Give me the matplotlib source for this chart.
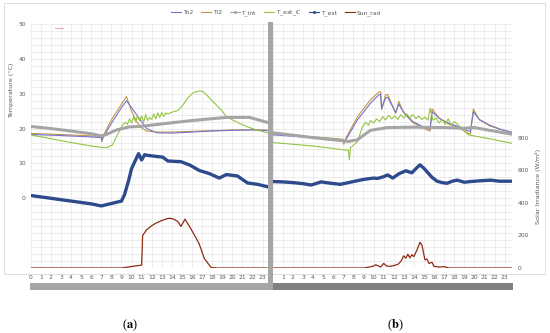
import matplotlib

matplotlib.use("Agg")
import matplotlib.pyplot as plt
from matplotlib.lines import Line2D
from matplotlib.patches import Rectangle
from matplotlib.ticker import MultipleLocator

W, H = 550, 333
DAY_B = 24  # day (b) is drawn right after day (a) on one hour axis

# ---- day (a) -------------------------------------------------------------
TEXT_A_H = [0, 2, 4, 6, 7, 8, 9, 9.3, 9.7, 10.0, 10.4, 10.7, 11.0, 11.3, 11.6, 12.5,
            13.1, 13.6, 14.9, 15.8, 16.7, 17.7, 18.7, 19.4, 20.5, 21.5, 22.5, 23.5, 23.8]
TEXT_A = [0.8, 0.0, -0.8, -1.6, -2.2, -1.5, -0.8, 1.0, 5.0, 8.5, 11.0, 12.8, 11.0, 12.5, 12.3, 12.0,
          11.8, 10.7, 10.5, 9.5, 8.0, 7.1, 5.8, 6.8, 6.4, 4.4, 4.0, 3.3, 3.5]

TINT_A_H = [0, 2, 4, 6, 7, 7.5, 8.5, 9.8, 10.8, 12, 14.1, 16, 17.5, 19.4, 21.7, 23.8]
TINT_A = [20.6, 20.0, 19.3, 18.5, 17.9, 18.3, 19.6, 20.5, 20.6, 21.0, 21.7, 22.3, 22.7, 23.2, 23.2, 21.5]

TI2_A_H = [0, 3, 6, 7, 7.05, 7.2, 8, 9, 9.5, 10, 10.5, 11, 11.5, 12.5, 14, 16, 18, 20, 22, 23.8]
TI2_A = [18.6, 18.3, 17.9, 17.7, 16.2, 18.0, 22.5, 27.0, 29.2, 25.0, 22.0, 20.2, 19.3, 19.0, 19.0,
         19.2, 19.4, 19.6, 19.7, 19.5]
TO2_A = [18.3, 18.0, 17.6, 17.4, 16.6, 17.5, 21.5, 26.0, 28.0, 26.0, 24.0, 22.0, 20.0, 18.8, 18.7,
         19.0, 19.3, 19.5, 19.6, 19.4]

TEC_A_H = [0, 2, 4, 6, 7, 7.5, 8.1, 8.6, 9.1, 9.4, 9.6, 9.8, 10.0, 10.2, 10.4, 10.6, 10.8, 11.0,
           11.2, 11.4, 11.6, 11.8, 12.0, 12.2, 12.4, 12.6, 12.8, 13.0, 13.2, 13.4, 13.6, 14.1,
           14.6, 15.1, 15.6, 16.0, 16.4, 16.8, 17.1, 17.5, 18.0, 18.4, 19.0, 19.4, 20.0, 20.7,
           21.5, 22.4, 23.5, 23.8]
TEC_A = [18.2, 17.1, 16.0, 15.0, 14.6, 14.5, 15.3, 18.2, 21.0, 21.8, 21.2, 22.8, 21.6, 23.4, 22.0,
         23.8, 22.2, 23.6, 21.9, 24.0, 22.3, 23.2, 22.6, 24.2, 22.8, 24.5, 23.2, 24.6, 23.5, 24.5,
         24.2, 24.8, 25.2, 26.8, 28.8, 30.0, 30.6, 30.8, 30.6, 29.5, 28.0, 26.8, 25.0, 23.4, 22.5,
         21.5, 20.5, 19.6, 18.8, 18.5]

SUN_A_H = [0, 9, 11.0, 11.1, 11.5, 12.0, 12.4, 13.0, 13.5, 13.8, 14.2, 14.6, 14.9, 15.3, 15.8,
           16.3, 16.7, 16.9, 17.2, 17.5, 17.9, 18.5, 23.8]
SUN_A = [0, 0, 18, 200, 235, 260, 275, 292, 303, 306, 300, 285, 255, 300, 250, 195, 150, 115,
         60, 35, 3, 0, 0]

# ---- day (b) -------------------------------------------------------------
TEXT_B_H = [0, 1, 2, 3, 3.8, 4.8, 5.8, 6.7, 8, 9.0, 10.0, 10.4, 11.0, 11.4, 11.9, 12.5, 13.2,
            13.8, 14.2, 14.6, 15.0, 15.3, 15.8, 16.3, 16.8, 17.3, 17.8, 18.3, 19.0, 19.6, 20.5,
            21.6, 22.5, 23.7]
TEXT_B = [4.8, 4.7, 4.5, 4.2, 3.8, 4.7, 4.3, 4.0, 4.8, 5.4, 5.8, 5.7, 6.2, 6.7, 5.8, 7.0, 7.9,
          7.3, 8.5, 9.6, 8.6, 7.6, 6.0, 4.9, 4.5, 4.3, 4.9, 5.2, 4.6, 4.8, 5.0, 5.2, 4.9, 4.9]

TINT_B_H = [0, 2, 4, 7, 7.5, 8.4, 9.7, 11.4, 14, 17, 19, 20, 21.3, 23.7]
TINT_B = [18.8, 18.1, 17.4, 16.5, 16.3, 16.8, 19.5, 20.3, 20.4, 20.3, 20.1, 20.3, 19.6, 18.4]

TI2_B_H = [0, 3, 6, 7, 7.05, 7.3, 8.4, 9.7, 10.5, 10.7, 10.8, 11.2, 11.4, 12.2, 12.5, 13.0,
           13.9, 15.0, 15.6, 15.8, 16.5, 17.5, 18.3, 19.4, 19.6, 19.9, 20.5, 21.5, 22.5, 23.7]
TI2_B = [18.4, 17.8, 17.2, 16.9, 15.5, 17.5, 23.4, 28.3, 30.4, 30.6, 25.4, 29.7, 29.8, 24.4,
         27.8, 24.5, 21.7, 20.0, 19.3, 25.6, 23.0, 21.2, 20.5, 18.6, 18.5, 25.6, 22.5, 20.8,
         19.8, 18.9]
TO2_B = [18.2, 17.6, 17.0, 16.7, 16.0, 17.0, 22.5, 27.3, 29.6, 29.9, 25.8, 28.8, 29.0, 24.6,
         27.0, 24.6, 22.0, 20.4, 19.8, 24.8, 23.0, 21.4, 20.7, 19.3, 19.2, 24.8, 22.6, 21.0,
         19.9, 18.9]

TEC_B_H = [0, 2, 4, 6, 7, 7.5, 7.6, 7.7, 8.4, 8.9, 9.2, 9.5, 9.7, 10.0, 10.3, 10.6, 10.9, 11.2,
           11.5, 11.8, 12.1, 12.4, 12.7, 13.0, 13.3, 13.6, 13.9, 14.2, 14.5, 14.8, 15.1, 15.4,
           15.6, 15.9, 16.2, 16.5, 16.8, 17.1, 17.4, 17.7, 18.0, 18.3, 19.4, 20.5, 21.3, 22.5,
           23.7]
TEC_B = [16.0, 15.5, 15.0, 14.3, 13.9, 13.8, 11.0, 14.5, 16.2, 20.5, 21.8, 21.0, 22.3, 21.6,
         22.8, 22.0, 23.4, 22.5, 23.8, 22.8, 23.6, 22.6, 24.0, 23.0, 24.2, 23.1, 24.0, 22.9, 23.6,
         22.6, 23.3, 22.4, 25.8, 22.4, 23.0, 21.6, 22.6, 21.2, 22.8, 21.0, 22.0, 21.3, 18.2, 17.6,
         17.2, 16.5, 15.8]

SUN_B_H = [0, 9.0, 9.5, 10.0, 10.2, 10.5, 10.7, 11.0, 11.3, 11.6, 12.0, 12.4, 12.7, 13.0, 13.2,
           13.4, 13.6, 13.8, 14.0, 14.3, 14.6, 14.8, 15.1, 15.3, 15.5, 15.8, 16.0, 16.5, 17.0,
           17.5, 23.7]
SUN_B = [0, 0, 5, 12, 20, 12, 6, 28, 12, 10, 15, 22, 40, 75, 60, 85, 62, 82, 70, 110, 158, 140,
         50, 55, 28, 35, 10, 6, 8, 0, 0]

HOUR_LABELS = [str(h) for h in range(24)] + [""] + [str(h) for h in range(1, 24)]

C_TO2 = "#7472d2"
C_TI2 = "#c4973f"
C_TINT = "#a5a5a5"
C_TEC = "#92c541"
C_TEXT = "#2c4a8c"
C_SUN = "#8e2b12"
TXT = "#595959"

plt.rcParams["mathtext.fontset"] = "stix"


def px_rect(fig, x0, y0, x1, y1, **kw):
    """Rectangle in pixel coords measured from the top-left corner."""
    fig.add_artist(Rectangle((x0 / W, 1 - y1 / H), (x1 - x0) / W, (y1 - y0) / H,
                             transform=fig.transFigure, **kw))


def shift(hours):
    return [h + DAY_B for h in hours]


fig = plt.figure(figsize=(W / 100, H / 100), dpi=100)
px_rect(fig, 4, 3, 545, 274, facecolor="none", edgecolor="#d9d9d9", linewidth=0.6)

ax = fig.add_axes([30.7 / W, 1 - 268 / H, 481 / W, 244 / H])
ax.set_xlim(0, 47.7)
ax.set_ylim(-20, 50)
ax.set_xticks(range(48))
ax.set_xticklabels(HOUR_LABELS)
ax.set_yticks([0, 10, 20, 30, 40, 50])
ax.yaxis.set_minor_locator(MultipleLocator(2))
ax.grid(True, which="both", color="#e6e6e6", linewidth=0.5)
ax.set_axisbelow(True)
ax.tick_params(axis="x", length=0, pad=5, labelsize=4.3, labelcolor=TXT)
ax.tick_params(axis="y", which="both", length=0, pad=3.5, labelsize=4.3, labelcolor=TXT)
for s in ax.spines.values():
    s.set_visible(False)

ax.plot(TI2_A_H, TI2_A, color=C_TI2, lw=0.8)
ax.plot(TI2_A_H, TO2_A, color=C_TO2, lw=0.8)
ax.plot(shift(TI2_B_H), TI2_B, color=C_TI2, lw=0.8)
ax.plot(shift(TI2_B_H), TO2_B, color=C_TO2, lw=0.8)
ax.plot(TEC_A_H, TEC_A, color=C_TEC, lw=0.8)
ax.plot(shift(TEC_B_H), TEC_B, color=C_TEC, lw=0.8)
ax.plot(TINT_A_H, TINT_A, color=C_TINT, lw=2.2)
ax.plot(shift(TINT_B_H), TINT_B, color=C_TINT, lw=2.2)
ax.plot(TEXT_A_H, TEXT_A, color=C_TEXT, lw=2.4)
ax.plot(shift(TEXT_B_H), TEXT_B, color=C_TEXT, lw=2.4)

ax2 = ax.twinx()
ax2.set_ylim(0, 1500)
ax2.set_yticks([0, 200, 400, 600, 800])
ax2.tick_params(axis="y", length=0, pad=4, labelsize=4.3, labelcolor=TXT)
for s in ax2.spines.values():
    s.set_visible(False)
ax2.plot(SUN_A_H, SUN_A, color=C_SUN, lw=0.9)
ax2.plot(shift(SUN_B_H), SUN_B, color=C_SUN, lw=0.9)

# divider between the two days and the grey bars under the hour labels
px_rect(fig, 268, 22, 273, 290, color="#a6a6a6", linewidth=0)
px_rect(fig, 30, 283, 270, 290, color="#a6a6a6", linewidth=0)
px_rect(fig, 273, 283, 513, 290, color="#7f7f7f", linewidth=0)

fig.text(12 / W, 1 - 90 / H, "Temperature (°C)", rotation=90, ha="center", va="center",
         fontsize=4.6, color=TXT)
fig.text(538 / W, 1 - 186 / H, "Solar Irradiance (W/m²)", rotation=90, ha="center",
         va="center", fontsize=4.6, color=TXT)

handles = [
    Line2D([], [], color=C_TO2, lw=0.8),
    Line2D([], [], color=C_TI2, lw=0.8),
    Line2D([], [], color=C_TINT, lw=0.8, marker="o", markersize=1.2),
    Line2D([], [], color=C_TEC, lw=0.8),
    Line2D([], [], color=C_TEXT, lw=0.8, marker="o", markersize=1.2),
    Line2D([], [], color=C_SUN, lw=0.8),
]
labels = ["To2", "Ti2", "T_int", r"T_ext_$\mathbf{C}$", "T_ext", "Sun_rad"]
fig.legend(handles, labels, loc="center", bbox_to_anchor=(276 / W, 1 - 13 / H), ncol=6,
           frameon=False, fontsize=4.3, handlelength=1.6, handletextpad=0.3,
           columnspacing=1.4, labelcolor=TXT)

fig.add_artist(Line2D([55 / W, 63 / W], [1 - 28 / H] * 2, color="#ff9fd0", lw=0.8))

for x, letter in ((130, "a"), (395, "b")):
    fig.text(x / W, 1 - 325 / H, "(" + r"$\mathbf{" + letter + "}$" + ")", ha="center",
             va="center", fontsize=9, family="Liberation Serif", color="black")

fig.savefig("out.png", dpi=100)
